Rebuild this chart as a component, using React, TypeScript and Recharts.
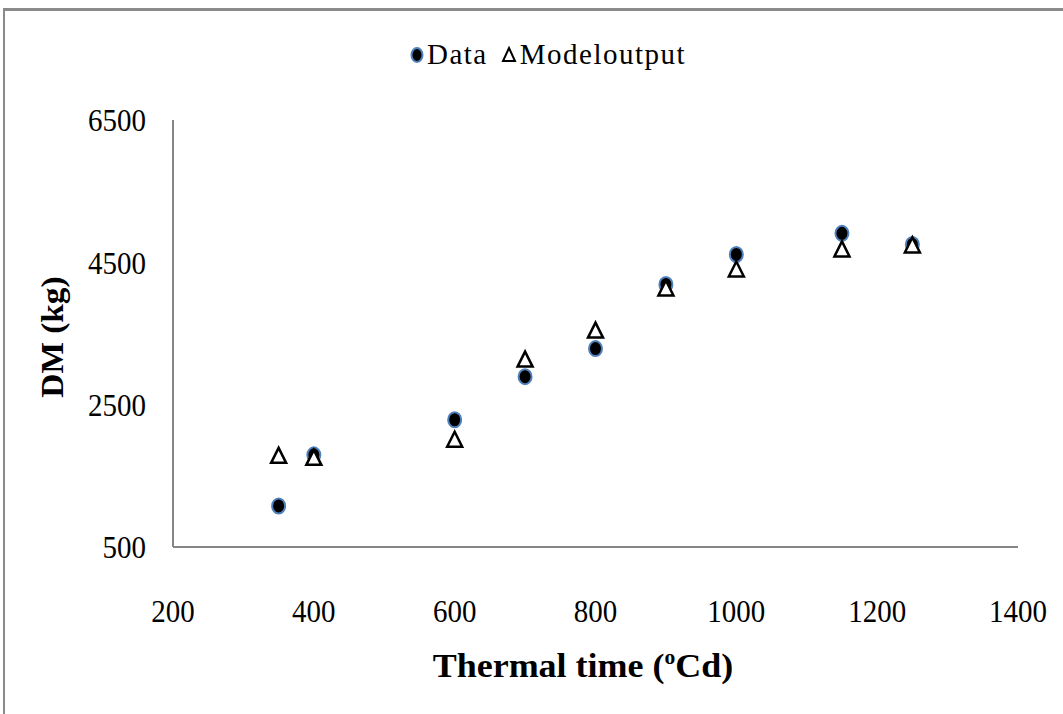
import React from 'react';
import { ScatterChart, Scatter, XAxis, YAxis, Legend, Label } from 'recharts';

// thermal time (oCd) for each sampling
const thermalTime = [350, 400, 600, 700, 800, 900, 1000, 1150, 1250];
// measured dry matter (kg)
const measuredDM = [1077, 1795, 2288, 2894, 3288, 4189, 4611, 4907, 4752];
// model output dry matter (kg)
const modelDM = [1781, 1753, 2007, 3133, 3541, 4133, 4400, 4682, 4738];

const xTicks = [200, 400, 600, 800, 1000, 1200, 1400];
const yTicks = [500, 2500, 4500, 6500];

const dataPoints = thermalTime.map((t, i) => ({ x: t, y: measuredDM[i] }));
const modelPoints = thermalTime.map((t, i) => ({ x: t, y: modelDM[i] }));

const FONT = '"Liberation Serif", "Times New Roman", serif';

const DataDot = (props: any) => {
  const { cx, cy } = props;
  return <ellipse cx={cx} cy={cy} rx={6.5} ry={7.5} fill="#000" stroke="#4f81bd" strokeWidth={2} />;
};

const ModelTriangle = (props: any) => {
  const { cx, cy } = props;
  return (
    <path
      d={`M${cx},${cy - 8} L${cx + 7.5},${cy + 7} L${cx - 7.5},${cy + 7} Z`}
      fill="#fff"
      stroke="#000"
      strokeWidth={2.5}
      strokeLinejoin="miter"
    />
  );
};

// reference text looks a bit stretched vertically
const XTick = ({ x, y, payload }: any) => (
  <g transform={`translate(${x},${y + 62}) scale(1,1.12)`}>
    <text x={0} y={0} textAnchor="middle" dy="0.35em" fontSize={29} fontFamily={FONT} fill="#000">
      {payload.value}
    </text>
  </g>
);

const YTick = ({ x, y, payload }: any) => (
  <g transform={`translate(${x - 25},${y}) scale(1,1.12)`}>
    <text x={0} y={0} textAnchor="end" dy="0.35em" fontSize={29} fontFamily={FONT} fill="#000">
      {payload.value}
    </text>
  </g>
);

const renderLegend = () => (
  <div style={{ display: 'flex', alignItems: 'center', fontFamily: FONT, fontSize: 29, color: '#000' }}>
    <svg width={16} height={18} style={{ marginRight: 2 }}>
      <ellipse cx={8} cy={9} rx={5.5} ry={7} fill="#000" stroke="#4f81bd" strokeWidth={2} />
    </svg>
    <span style={{ letterSpacing: 1.5 }}>Data</span>
    <svg width={22} height={18} style={{ marginLeft: 10, marginRight: 0 }}>
      <path d="M11,2 L17,15 L5,15 Z" fill="#fff" stroke="#000" strokeWidth={2} />
    </svg>
    <span style={{ letterSpacing: 1.5 }}>Modeloutput</span>
  </div>
);

const App = () => {
  return (
    <div style={{ position: 'absolute', left: 0, top: 0, width: 1063, height: 714, background: '#fff', overflow: 'hidden' }}>
      <div
        style={{
          position: 'absolute',
          left: 3,
          top: 8,
          width: 1100,
          height: 800,
          borderLeft: '2px solid #8a8a8a',
          borderTop: '3px solid #8a8a8a',
        }}
      />
      <ScatterChart
        width={1063}
        height={714}
        margin={{ top: 87, right: 45, bottom: 107, left: 93 }}
        style={{ position: 'absolute', left: 0, top: 0 }}
      >
        <XAxis
          type="number"
          dataKey="x"
          domain={[200, 1400]}
          ticks={xTicks}
          tick={<XTick />}
          tickLine={false}
          tickSize={0}
          height={60}
          axisLine={{ stroke: '#868686', strokeWidth: 2 }}
          allowDataOverflow
        >
          <Label
            position="bottom"
            content={() => (
              <g transform="translate(583,665) scale(1.2,1.12)">
                <text x={0} y={0} textAnchor="middle" dy="0.35em" fontSize={30} fontWeight="bold" fontFamily={FONT} fill="#000">
                  <tspan>Thermal time (</tspan>
                  <tspan fontSize={18} dy={-11}>o</tspan>
                  <tspan dy={11}>Cd)</tspan>
                </text>
              </g>
            )}
          />
        </XAxis>
        <YAxis
          type="number"
          dataKey="y"
          domain={[500, 6500]}
          ticks={yTicks}
          tick={<YTick />}
          tickLine={false}
          tickSize={0}
          width={80}
          axisLine={{ stroke: '#868686', strokeWidth: 2 }}
          allowDataOverflow
        >
          <Label
            position="left"
            content={() => (
              <g transform="translate(52,337) rotate(-90) scale(1.15,1.12)">
                <text x={0} y={0} textAnchor="middle" dy="0.35em" fontSize={29} fontWeight="bold" fontFamily={FONT} fill="#000">
                  DM (kg)
                </text>
              </g>
            )}
          />
        </YAxis>
        <Legend
          verticalAlign="top"
          content={renderLegend}
          wrapperStyle={{ position: 'absolute', top: 38, left: 409, width: 'auto' }}
        />
        <Scatter name="Data" data={dataPoints} shape={<DataDot />} isAnimationActive={false} />
        <Scatter name="Modeloutput" data={modelPoints} shape={<ModelTriangle />} isAnimationActive={false} />
      </ScatterChart>
    </div>
  );
};

export default App;
